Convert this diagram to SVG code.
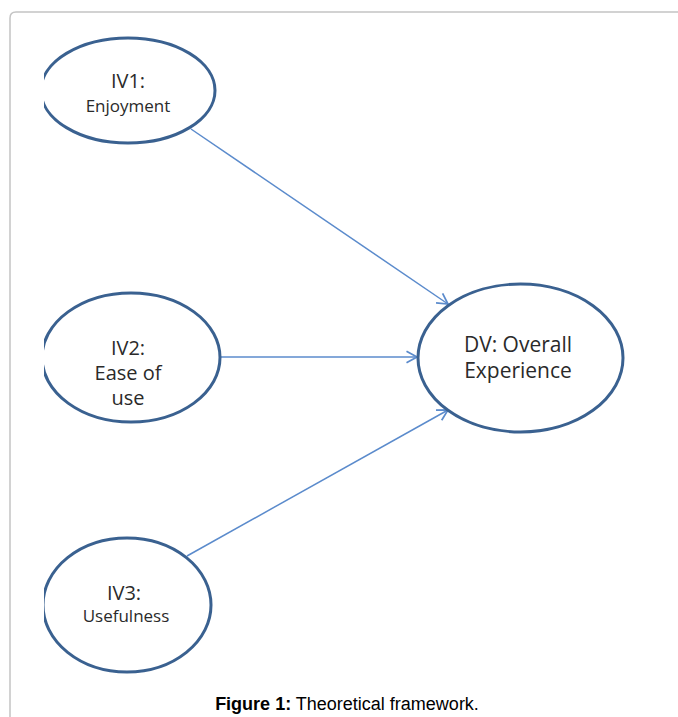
<svg xmlns="http://www.w3.org/2000/svg" width="678" height="717" viewBox="0 0 678 717">
<defs>
<style>
.node ellipse{fill:#fff;stroke:#3a6190;stroke-width:3}
.lbl{font-family:"Open Sans","Liberation Sans",sans-serif;fill:#2a2a2a;text-anchor:middle}
.big{font-size:20px}
.small{font-size:17px}
.dv{font-size:21px}
.conn line{stroke:#5b8bcc;stroke-width:1.5}
.cap{font-family:"Liberation Sans",Arial,sans-serif;font-size:18px;fill:#000;text-anchor:middle}
</style>
<clipPath id="clipL"><rect x="44" y="0" width="634" height="717"/></clipPath>
<marker id="arr" markerUnits="userSpaceOnUse" markerWidth="14" markerHeight="14" refX="10" refY="6" orient="auto" viewBox="0 0 12 12">
<path d="M1,1 L10,6 L1,11" fill="none" stroke="#5b8bcc" stroke-width="1.5"/>
</marker>
</defs>
<rect width="678" height="717" fill="#fff"/>
<path d="M10,740 V18 Q10,12 16,12 H690" fill="none" stroke="#c4c4c4" stroke-width="1.5"/>
<g class="conn">
<line x1="191" y1="129" x2="448" y2="304" marker-end="url(#arr)"/>
<line x1="220" y1="357" x2="417" y2="357" marker-end="url(#arr)"/>
<line x1="187" y1="556" x2="448" y2="410" marker-end="url(#arr)"/>
</g>
<g id="iv1" class="node">
<ellipse cx="128" cy="90.5" rx="87" ry="52.5" clip-path="url(#clipL)"/>
<text class="lbl big" x="128" y="88">IV1:</text>
<text class="lbl small" x="128" y="112">Enjoyment</text>
</g>
<g id="iv2" class="node">
<ellipse cx="131" cy="357.5" rx="89" ry="64.5" clip-path="url(#clipL)"/>
<text class="lbl big" x="128" y="355">IV2:</text>
<text class="lbl big" x="128" y="380">Ease of</text>
<text class="lbl big" x="128" y="405">use</text>
</g>
<g id="iv3" class="node">
<ellipse cx="127" cy="605" rx="84" ry="67" clip-path="url(#clipL)"/>
<text class="lbl big" x="124" y="600">IV3:</text>
<text class="lbl small" x="126" y="622">Usefulness</text>
</g>
<g id="dv" class="node">
<ellipse cx="520.5" cy="358" rx="102.5" ry="74"/>
<text class="lbl dv" x="518" y="352">DV: Overall</text>
<text class="lbl dv" x="518" y="378">Experience</text>
</g>
<text class="cap" x="347" y="710"><tspan font-weight="bold">Figure 1:</tspan> Theoretical framework.</text>
</svg>
